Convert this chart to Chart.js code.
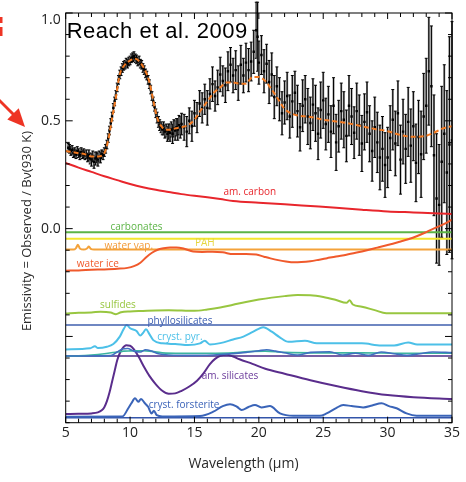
<!DOCTYPE html>
<html>
<head>
<meta charset="utf-8">
<script src="https://cdn.jsdelivr.net/npm/chart.js@4.4.0/dist/chart.umd.min.js"></script>
<style>
  body { margin: 0; background: #fff; }
  #wrap { width: 466px; height: 482px; }
</style>
</head>
<body>
<div id="wrap"><canvas id="spec"></canvas></div>
<script>
// observed spectrum, short-wavelength part (um, emissivity, 1-sigma)
var shortWave = [5.2, 5.3, 5.4, 5.5, 5.6, 5.7, 5.8, 5.9, 6.0, 6.1, 6.2, 6.3, 6.4, 6.5, 6.6, 6.7, 6.8, 6.9, 7.0, 7.1,
  7.2, 7.3, 7.4, 7.5, 7.6, 7.7, 7.8, 7.9, 8.0, 8.1, 8.2, 8.3, 8.4, 8.5, 8.6, 8.7, 8.8, 8.9, 9.0, 9.1,
  9.2, 9.3, 9.4, 9.5, 9.6, 9.7, 9.8, 9.9, 10.0, 10.1, 10.2, 10.3, 10.4, 10.5, 10.6, 10.7, 10.8, 10.9, 11.0, 11.1,
  11.2, 11.3, 11.4, 11.5, 11.6, 11.7, 11.8, 11.9, 12.0, 12.1, 12.2, 12.3, 12.4, 12.5, 12.6, 12.7, 12.8, 12.9, 13.0, 13.1,
  13.2, 13.3, 13.4, 13.5, 13.6, 13.7, 13.8, 13.9, 14.0];
var shortFlux = [0.375, 0.37, 0.36, 0.365, 0.35, 0.355, 0.345, 0.36, 0.35, 0.34,
  0.355, 0.345, 0.35, 0.34, 0.345, 0.33, 0.34, 0.325, 0.32, 0.335,
  0.31, 0.325, 0.33, 0.32, 0.335, 0.33, 0.345, 0.34, 0.355, 0.37,
  0.39, 0.42, 0.455, 0.49, 0.52, 0.56, 0.59, 0.62, 0.655, 0.69,
  0.715, 0.73, 0.745, 0.755, 0.76, 0.77, 0.765, 0.775, 0.78, 0.79,
  0.795, 0.8, 0.79, 0.785, 0.775, 0.78, 0.765, 0.76, 0.745, 0.735,
  0.72, 0.71, 0.69, 0.67, 0.645, 0.615, 0.59, 0.565, 0.535, 0.515,
  0.495, 0.48, 0.47, 0.46, 0.465, 0.45, 0.455, 0.44, 0.45, 0.445,
  0.46, 0.44, 0.465, 0.455, 0.47, 0.46, 0.48, 0.47, 0.485];
var shortErr = [0.02, 0.02, 0.02, 0.02, 0.02, 0.02, 0.02, 0.02, 0.02, 0.02, 0.02, 0.02, 0.02, 0.02, 0.02, 0.02,
  0.025, 0.025, 0.03, 0.025, 0.03, 0.03, 0.025, 0.03, 0.025, 0.025,
  0.02, 0.02, 0.02, 0.02, 0.02, 0.02, 0.02, 0.02, 0.02, 0.02, 0.02, 0.02, 0.02, 0.02, 0.02,
  0.02, 0.02, 0.02, 0.02, 0.02, 0.02, 0.02, 0.02, 0.02, 0.02, 0.02, 0.02, 0.02, 0.02, 0.02,
  0.02, 0.02, 0.02, 0.02, 0.02, 0.02, 0.02, 0.02, 0.02, 0.02, 0.02, 0.02, 0.02,
  0.025, 0.025, 0.025, 0.025, 0.025, 0.03, 0.03, 0.03, 0.035, 0.035, 0.04, 0.035, 0.045, 0.04, 0.045, 0.04, 0.05, 0.045, 0.05, 0.05];

// observed spectrum, long-wavelength part
var longWave = [14.2, 14.4, 14.6, 14.8, 15.0, 15.2, 15.4, 15.6, 15.8, 16.0,
  16.2, 16.4, 16.6, 16.8, 17.0, 17.2, 17.4, 17.6, 17.8, 18.0,
  18.2, 18.4, 18.6, 18.8, 19.0, 19.2, 19.4, 19.6, 19.8, 19.9,
  20.0, 20.2, 20.4, 20.6, 20.8, 21.0, 21.2, 21.4, 21.6, 21.8,
  22.0, 22.2, 22.4, 22.6, 22.8, 23.0, 23.2, 23.4, 23.6, 23.8,
  24.0, 24.2, 24.4, 24.6, 24.8, 25.0, 25.2, 25.4, 25.6, 25.8,
  26.0, 26.2, 26.4, 26.6, 26.8, 27.0, 27.2, 27.4, 27.6, 27.8,
  28.0, 28.2, 28.4, 28.6, 28.8, 29.0, 29.2, 29.4, 29.6, 29.8,
  30.0, 30.2, 30.4, 30.6, 30.8, 31.0, 31.2, 31.4, 31.6, 31.8,
  32.0, 32.2, 32.4, 32.6, 32.8, 33.0, 33.2, 33.4, 33.6, 33.8,
  34.0, 34.2, 34.4, 34.6, 34.8, 35.0];
var longFlux = [0.47, 0.45, 0.5, 0.475, 0.535, 0.515, 0.58, 0.56, 0.6, 0.56,
  0.625, 0.67, 0.615, 0.655, 0.715, 0.685, 0.665, 0.73, 0.76, 0.71,
  0.735, 0.675, 0.76, 0.71, 0.77, 0.735, 0.775, 0.82, 0.92, 0.89,
  0.77, 0.805, 0.73, 0.765, 0.68, 0.715, 0.61, 0.66, 0.6, 0.535,
  0.585, 0.615, 0.52, 0.59, 0.63, 0.545, 0.47, 0.57, 0.6, 0.52,
  0.49, 0.575, 0.535, 0.44, 0.55, 0.595, 0.485, 0.53, 0.45, 0.57,
  0.4, 0.475, 0.545, 0.505, 0.43, 0.57, 0.52, 0.445, 0.545, 0.48,
  0.395, 0.495, 0.54, 0.44, 0.36, 0.47, 0.4, 0.33, 0.37, 0.295,
  0.33, 0.42, 0.505, 0.395, 0.535, 0.32, 0.45, 0.37, 0.495, 0.385,
  0.475, 0.305, 0.425, 0.345, 0.52, 0.57, 0.73, 0.66, 0.34, 0.14,
  0.11, 0.31, 0.44, 0.26, 0.39, 0.41];
var longErr = [0.06, 0.07, 0.06, 0.07, 0.06, 0.07, 0.06, 0.07, 0.07, 0.08,
  0.07, 0.08, 0.07, 0.08, 0.08, 0.07, 0.08, 0.09, 0.08, 0.08,
  0.09, 0.08, 0.09, 0.08, 0.09, 0.1, 0.09, 0.1, 0.13, 0.16,
  0.1, 0.09, 0.1, 0.09, 0.1, 0.1, 0.1, 0.09, 0.1, 0.1,
  0.1, 0.11, 0.1, 0.12, 0.1, 0.12, 0.11, 0.12, 0.11, 0.13,
  0.12, 0.12, 0.13, 0.12, 0.13, 0.13, 0.12, 0.13, 0.12, 0.13,
  0.13, 0.12, 0.13, 0.13, 0.12, 0.14, 0.13, 0.12, 0.13, 0.14,
  0.13, 0.13, 0.14, 0.13, 0.14, 0.14, 0.14, 0.15, 0.15, 0.15,
  0.14, 0.15, 0.14, 0.15, 0.15, 0.16, 0.15, 0.16, 0.16, 0.17,
  0.16, 0.18, 0.17, 0.2, 0.2, 0.22, 0.25, 0.28, 0.28, 0.3,
  0.28, 0.35, 0.32, 0.38, 0.5, 0.55];

// total model (orange dashed)
var modelWave = [5.0, 5.5, 6.0, 6.5, 7.0, 7.5, 8.0, 8.3, 8.6, 8.9, 9.2, 9.6, 10.0, 10.4, 10.8, 11.2, 11.5, 11.8, 12.1, 12.5,
  13.0, 13.5, 14.0, 14.5, 15.0, 15.5, 16.0, 16.5, 17.0, 17.5, 18.0, 18.5, 19.0, 19.5, 20.0, 20.5, 21.0, 21.5, 22.0, 22.5,
  23.0, 24.0, 25.0, 26.0, 27.0, 28.0, 29.0, 30.0, 31.0, 32.0, 32.8, 33.5, 34.3, 35.0];
var modelFlux = [0.36, 0.355, 0.35, 0.345, 0.335, 0.335, 0.35, 0.41, 0.51, 0.61, 0.715, 0.76, 0.78, 0.788, 0.77, 0.73, 0.68, 0.595, 0.515, 0.47,
  0.458, 0.465, 0.47, 0.48, 0.505, 0.55, 0.59, 0.63, 0.655, 0.678, 0.678, 0.672, 0.672, 0.703, 0.703, 0.685, 0.645, 0.6, 0.555, 0.535,
  0.525, 0.518, 0.505, 0.497, 0.488, 0.475, 0.462, 0.452, 0.434, 0.426, 0.428, 0.442, 0.465, 0.475];

// model components (offset for display)
var amCarbonWave = [5, 6, 7, 8, 9, 10, 11, 12, 13, 14, 15, 16, 17, 18, 20, 22, 24, 26, 28, 30, 32, 34, 35];
var amCarbonFlux = [0.305, 0.283, 0.263, 0.243, 0.225, 0.207, 0.192, 0.18, 0.17, 0.16, 0.152, 0.145, 0.137, 0.128, 0.12, 0.113, 0.105, 0.097, 0.088, 0.08, 0.075, 0.07, 0.068];

var carbonatesWave = [5, 35];
var carbonatesFlux = [-0.017, -0.017];

var pahWave = [5, 35];
var pahFlux = [-0.047, -0.047];

var waterVapWave = [5, 5.6, 5.8, 5.95, 6.1, 6.4, 6.65, 6.8, 6.95, 7.2, 35];
var waterVapFlux = [-0.097, -0.097, -0.09, -0.075, -0.092, -0.097, -0.092, -0.083, -0.094, -0.097, -0.097];

var waterIceWave = [5, 6, 7, 8, 9, 9.8, 10.3, 10.8, 11.3, 11.7, 12.1, 12.6, 13.1, 13.6, 14.2, 14.9, 15.6, 16.4, 17.2, 18,
  19, 19.8, 20.4, 20.9, 21.5, 22.1, 22.7, 23.3, 24, 24.6, 25.3, 26, 26.8, 27.6, 28.4, 29.2, 30, 30.8, 31.6, 32.3,
  33, 33.8, 34.4, 35];
var waterIceFlux = [-0.195, -0.194, -0.191, -0.189, -0.186, -0.182, -0.174, -0.158, -0.13, -0.112, -0.099, -0.091, -0.087, -0.087, -0.093, -0.106, -0.108, -0.107, -0.11, -0.118,
  -0.118, -0.12, -0.13, -0.138, -0.146, -0.152, -0.156, -0.155, -0.151, -0.145, -0.137, -0.129, -0.121, -0.111, -0.1, -0.088, -0.076, -0.063, -0.049, -0.034,
  -0.016, 0.006, 0.022, 0.042];

var sulfidesWave = [5, 6, 7, 7.7, 8.5, 8.9, 9.3, 10, 11, 12, 13, 14, 15, 16, 17, 18, 19, 20, 21, 22,
  23, 24, 25, 26, 26.8, 27.05, 27.3, 28, 29, 29.9, 35];
var sulfidesFlux = [-0.394, -0.39, -0.389, -0.385, -0.389, -0.397, -0.388, -0.384, -0.382, -0.38, -0.379, -0.38, -0.381, -0.375, -0.366, -0.353, -0.34, -0.329, -0.32, -0.313,
  -0.308, -0.309, -0.317, -0.331, -0.344, -0.332, -0.352, -0.362, -0.378, -0.392, -0.392];

var phylloWave = [5, 35];
var phylloFlux = [-0.447, -0.447];

var pyroxWave = [5, 6.9, 7.27, 7.5, 8.2, 8.7, 9.2, 9.5, 9.74, 10.0, 10.5, 10.8, 11.0, 11.23, 11.5, 11.8, 12.5, 13.5, 14.5, 15.43,
  15.8, 16.2, 17, 18, 18.8, 19.57, 20.34, 21.0, 21.6, 22.3, 23.58, 24.5, 26, 28, 29.5, 30.5, 31.6, 32.3, 35];
var pyroxFlux = [-0.56, -0.555, -0.545, -0.554, -0.548, -0.535, -0.501, -0.466, -0.447, -0.462, -0.475, -0.496, -0.484, -0.467, -0.489, -0.517, -0.532, -0.535, -0.54, -0.532,
  -0.52, -0.537, -0.531, -0.514, -0.501, -0.478, -0.457, -0.478, -0.503, -0.525, -0.52, -0.532, -0.532, -0.532, -0.542, -0.542, -0.528, -0.537, -0.537];

var tealWave = [5, 6, 7, 8, 9, 9.5, 10, 11, 11.5, 12.5, 14, 16, 18, 19.5, 20.5, 22, 25, 28, 31, 35];
var tealFlux = [-0.592, -0.59, -0.586, -0.58, -0.572, -0.568, -0.567, -0.566, -0.568, -0.576, -0.578, -0.578, -0.576, -0.569, -0.568, -0.574, -0.576, -0.576, -0.578, -0.578];

var enstWave = [5, 8.5, 9.0, 9.4, 9.8, 10.3, 10.8, 11.2, 11.6, 12.2, 13, 15, 17, 19, 20, 20.6, 21.3, 22, 23, 24,
  25.5, 26.5, 27.5, 28.5, 29.5, 30.5, 31.5, 32.5, 33.5, 35];
var enstFlux = [-0.591, -0.589, -0.572, -0.558, -0.556, -0.568, -0.572, -0.562, -0.566, -0.58, -0.586, -0.588, -0.584, -0.574, -0.566, -0.562, -0.568, -0.576, -0.586, -0.574,
  -0.571, -0.586, -0.578, -0.588, -0.572, -0.58, -0.588, -0.58, -0.572, -0.575];

var silBaseWave = [5, 35];
var silBaseFlux = [-0.591, -0.591];

var amSilWave = [5, 6, 7, 7.5, 7.8, 8.0, 8.2, 8.4, 8.6, 8.8, 9.0, 9.2, 9.4, 9.7, 10.0, 10.3, 10.7, 11.1, 11.5, 12.0,
  12.5, 13.0, 13.5, 14.0, 14.6, 15.2, 15.7, 16.2, 16.6, 17.0, 17.5, 18.0, 18.5, 19.5, 20.5, 22, 24, 26, 28, 30,
  32, 35];
var amSilFlux = [-0.86, -0.859, -0.857, -0.852, -0.842, -0.828, -0.8, -0.76, -0.71, -0.66, -0.61, -0.578, -0.556, -0.541, -0.543, -0.56, -0.598, -0.643, -0.683, -0.722,
  -0.752, -0.766, -0.764, -0.752, -0.732, -0.705, -0.671, -0.628, -0.604, -0.59, -0.585, -0.593, -0.606, -0.627, -0.65, -0.673, -0.703, -0.73, -0.754, -0.772,
  -0.782, -0.79];

var forstWave = [5, 9.4, 9.86, 10.1, 10.38, 10.64, 10.85, 11.15, 11.4, 11.67, 11.85, 12.07, 12.5, 15.43, 16.46, 17.2, 17.76, 18.3, 18.66, 19.2,
  19.7, 20.2, 20.86, 21.64, 22.67, 24.74, 25.26, 26.0, 26.55, 27.2, 28.1, 28.8, 29.53, 30.1, 30.7, 31.47, 32.25, 35];
var forstFlux = [-0.872, -0.871, -0.833, -0.81, -0.787, -0.803, -0.79, -0.81, -0.826, -0.857, -0.845, -0.865, -0.871, -0.869, -0.849, -0.823, -0.814, -0.826, -0.841, -0.827,
  -0.818, -0.829, -0.823, -0.857, -0.868, -0.868, -0.857, -0.832, -0.818, -0.823, -0.829, -0.82, -0.81, -0.823, -0.833, -0.857, -0.868, -0.868];

var forstBaseWave = [5, 35];
var forstBaseFlux = [-0.877, -0.877];

var componentNames = ['am. carbon', 'carbonates', 'PAH', 'water vap.', 'water ice', 'sulfides',
  'phyllosilicates', 'cryst. pyr.', 'am. silicates', 'cryst. forsterite'];

var xTickValues = [5, 10, 15, 20, 25, 30, 35];
var yTickValues = [0.0, 0.5, 1.0];

function pairs(xs, ys) {
  var out = [];
  for (var i = 0; i < xs.length; i++) out.push({ x: xs[i], y: ys[i] });
  return out;
}

function lineSet(label, xs, ys, color, width) {
  return {
    type: 'line', label: label, data: pairs(xs, ys),
    borderColor: color, borderWidth: width || 2, pointRadius: 0,
    cubicInterpolationMode: 'monotone', fill: false
  };
}

// where each component name sits, in data units, and its colour
var labelStyle = {
  'am. carbon': { x: 19.3, y: 0.17, color: '#e8262c' },
  'carbonates': { x: 10.5, y: 0.007, color: '#5cb446' },
  'PAH': { x: 15.8, y: -0.067, color: '#e6d640' },
  'water vap.': { x: 9.9, y: -0.081, color: '#f29a38' },
  'water ice': { x: 7.5, y: -0.164, color: '#f05a2c' },
  'sulfides': { x: 9.06, y: -0.354, color: '#98c640' },
  'phyllosilicates': { x: 13.87, y: -0.429, color: '#3a5cb0' },
  'cryst. pyr.': { x: 13.87, y: -0.503, color: '#4cc0e8' },
  'am. silicates': { x: 17.76, y: -0.683, color: '#6a3a9a' },
  'cryst. forsterite': { x: 14.19, y: -0.818, color: '#3a62b8' }
};

function drawErrorBars(chart, wave, flux, err) {
  var xs = chart.scales.x, ys = chart.scales.y, ctx = chart.ctx;
  ctx.save();
  for (var i = 0; i < wave.length; i++) {
    var px = xs.getPixelForValue(wave[i]);
    var top = ys.getPixelForValue(flux[i] + err[i]);
    var bot = ys.getPixelForValue(flux[i] - err[i]);
    ctx.strokeStyle = '#8a8a8a';
    ctx.lineWidth = 2;
    ctx.beginPath(); ctx.moveTo(px, top); ctx.lineTo(px, bot); ctx.stroke();
    ctx.strokeStyle = '#000';
    ctx.lineWidth = 1;
    ctx.beginPath();
    ctx.moveTo(px, top); ctx.lineTo(px, bot);
    ctx.moveTo(px - 1.5, top); ctx.lineTo(px + 1.5, top);
    ctx.moveTo(px - 1.5, bot); ctx.lineTo(px + 1.5, bot);
    ctx.stroke();
  }
  ctx.restore();
}

var decorations = {
  id: 'decorations',
  beforeDatasetsDraw: function (chart) {
    drawErrorBars(chart, shortWave, shortFlux, shortErr);
    drawErrorBars(chart, longWave, longFlux, longErr);
  },
  afterDraw: function (chart) {
    var ctx = chart.ctx, a = chart.chartArea;
    var xs = chart.scales.x, ys = chart.scales.y;
    ctx.save();

    // frame + inward ticks on all four sides
    ctx.strokeStyle = '#000';
    ctx.lineWidth = 1;
    ctx.strokeRect(a.left, a.top, a.right - a.left, a.bottom - a.top);
    ctx.beginPath();
    for (var w = 5; w <= 35; w++) {
      var px = xs.getPixelForValue(w);
      var len = (w % 5 === 0) ? 6 : 4;
      ctx.moveTo(px, a.bottom); ctx.lineTo(px, a.bottom - len);
      ctx.moveTo(px, a.top); ctx.lineTo(px, a.top + len);
    }
    for (var k = -9; k <= 10; k++) {
      var py = ys.getPixelForValue(k / 10);
      var l2 = (k % 5 === 0) ? 7 : 4;
      ctx.moveTo(a.left, py); ctx.lineTo(a.left + l2, py);
      ctx.moveTo(a.right, py); ctx.lineTo(a.right - l2, py);
    }
    ctx.stroke();

    // y tick labels (the top one sits just inside the frame)
    ctx.fillStyle = '#222';
    ctx.font = '14px "Open Sans"';
    ctx.textAlign = 'right';
    ctx.textBaseline = 'middle';
    yTickValues.forEach(function (v) {
      var py = Math.max(ys.getPixelForValue(v), a.top + 7);
      ctx.fillText(v.toFixed(1), a.left - 5, py);
    });

    // component names
    ctx.font = '10px "Open Sans"';
    ctx.textAlign = 'center';
    ctx.textBaseline = 'middle';
    componentNames.forEach(function (name) {
      var s = labelStyle[name];
      ctx.fillStyle = s.color;
      ctx.fillText(name, xs.getPixelForValue(s.x), ys.getPixelForValue(s.y));
    });

    // citation in the corner
    ctx.fillStyle = '#000';
    ctx.font = '22px "Liberation Sans"';
    ctx.textAlign = 'left';
    ctx.textBaseline = 'alphabetic';
    ctx.letterSpacing = '0.5px';
    ctx.fillText('Reach et al. 2009', a.left + 1, 38);
    ctx.letterSpacing = '0px';

    // axis titles
    ctx.fillStyle = '#2a2a2a';
    ctx.font = '14px "Open Sans"';
    ctx.textAlign = 'center';
    ctx.textBaseline = 'middle';
    ctx.fillText('Wavelength (\u00b5m)', 243.5, 464);
    ctx.save();
    ctx.font = '13px "Open Sans"';
    ctx.translate(27, 231);
    ctx.rotate(-Math.PI / 2);
    ctx.fillText('Emissivity = Observed / B\u03bd(930 K)', 0, 0);
    ctx.restore();

    // red pointer coming in from the left edge
    ctx.fillStyle = '#ee3424';
    ctx.strokeStyle = '#ee3424';
    ctx.lineWidth = 3;
    ctx.beginPath(); ctx.moveTo(-2, 99); ctx.lineTo(14, 115); ctx.stroke();
    ctx.beginPath();
    ctx.moveTo(25, 127); ctx.lineTo(7.3, 119.6); ctx.lineTo(18.7, 108.3);
    ctx.closePath(); ctx.fill();
    ctx.fillRect(0, 17, 2.5, 6);
    ctx.fillRect(0, 27, 2.5, 9);

    ctx.restore();
  }
};

var tickFont = { family: 'Open Sans', size: 14 };

new Chart(document.getElementById('spec'), {
  type: 'line',
  data: {
    datasets: [
      {
        type: 'line', label: 'model', data: pairs(modelWave, modelFlux),
        borderColor: '#f47a20', borderWidth: 2, borderDash: [5, 3], pointRadius: 0,
        cubicInterpolationMode: 'monotone', fill: false
      },
      {
        type: 'scatter', label: 'observed', data: pairs(shortWave.concat(longWave), shortFlux.concat(longFlux)),
        pointStyle: 'rect', pointRadius: 1.7, backgroundColor: '#000', borderWidth: 0, showLine: false
      },
      lineSet('am. carbon', amCarbonWave, amCarbonFlux, '#e8262c'),
      lineSet('water ice', waterIceWave, waterIceFlux, '#f05a2c'),
      lineSet('water vap.', waterVapWave, waterVapFlux, '#f4a23a'),
      lineSet('PAH', pahWave, pahFlux, '#f4e62e'),
      lineSet('carbonates', carbonatesWave, carbonatesFlux, '#5cb446'),
      lineSet('sulfides', sulfidesWave, sulfidesFlux, '#98c640'),
      lineSet('phyllosilicates', phylloWave, phylloFlux, '#3f5fae', 1.6),
      lineSet('cryst. pyr.', pyroxWave, pyroxFlux, '#4cc0e8'),
      lineSet('enstatite', enstWave, enstFlux, '#4070c0', 1.6),
      lineSet('olivine', tealWave, tealFlux, '#3cb4a0', 1.6),
      lineSet('baseline', silBaseWave, silBaseFlux, '#4b2a86', 1.6),
      lineSet('am. silicates', amSilWave, amSilFlux, '#5a2d8c'),
      lineSet('cryst. forsterite', forstWave, forstFlux, '#3a64b8'),
      lineSet('forsterite base', forstBaseWave, forstBaseFlux, '#3355aa', 1.6)
    ]
  },
  options: {
    responsive: true,
    maintainAspectRatio: false,
    animation: false,
    layout: { padding: { top: 13, right: 14, left: 0, bottom: 0 } },
    plugins: { legend: { display: false }, tooltip: { enabled: false } },
    scales: {
      x: {
        type: 'linear', min: 5, max: 35,
        grid: { display: false, drawTicks: false },
        border: { display: false },
        ticks: { font: tickFont, color: '#222', padding: 2, maxRotation: 0 },
        afterBuildTicks: function (s) { s.ticks = xTickValues.map(function (v) { return { value: v }; }); },
        afterFit: function (s) { s.height = 59.3; }
      },
      y: {
        type: 'linear', min: -0.9, max: 1.0,
        grid: { display: false, drawTicks: false },
        border: { display: false },
        ticks: { display: false },
        afterBuildTicks: function (s) { s.ticks = yTickValues.map(function (v) { return { value: v }; }); },
        afterFit: function (s) { s.width = 65.7; }
      }
    }
  },
  plugins: [decorations]
});
</script>
</body>
</html>
